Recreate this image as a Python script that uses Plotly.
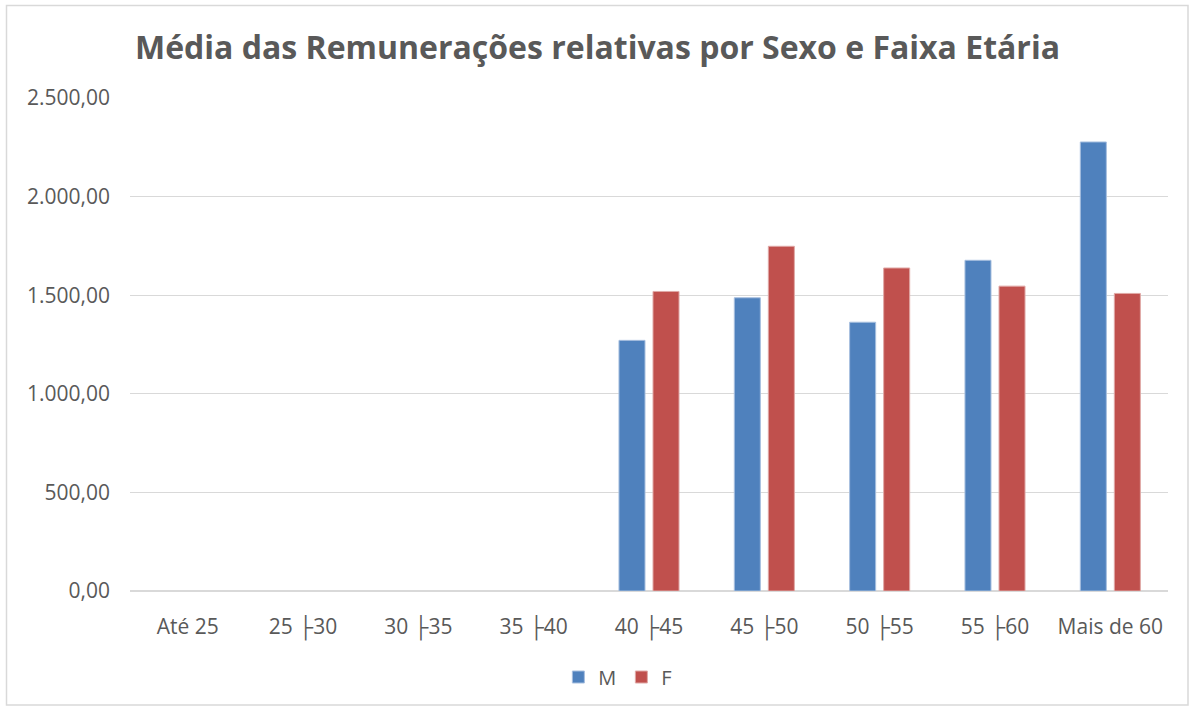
import plotly.graph_objects as go

categories = ["Até 25", "25 ├30", "30 ├35", "35 ├40", "40 ├45", "45 ├50", "50 ├55", "55 ├60", "Mais de 60"]
values_m = [None, None, None, None, 1271, 1487, 1363, 1677, 2277]
values_f = [None, None, None, None, 1519, 1748, 1638, 1546, 1509]
y_ticks = [0, 500, 1000, 1500, 2000, 2500]
y_tick_labels = ["0,00", "500,00", "1.000,00", "1.500,00", "2.000,00", "2.500,00"]

FONT = "'Open Sans', sans-serif"
GRAY = "#595959"

fig = go.Figure()
fig.add_trace(go.Bar(name="M", x=categories, y=values_m, marker=dict(color="#4F81BD", line=dict(color="#a7bfdf", width=1))))
fig.add_trace(go.Bar(name="F", x=categories, y=values_f, marker=dict(color="#C0504D", line=dict(color="#e0a8a6", width=1))))

L, R, T, B = 130, 27, 98, 120
W, H = 1195, 711
pw, ph = W - L - R, H - T - B

fig.update_layout(
    width=W, height=H,
    margin=dict(l=L, r=R, t=T, b=B),
    paper_bgcolor="white", plot_bgcolor="white",
    barmode="group", bargap=0.41, bargroupgap=0.235,
    title=dict(text="<b>Média das Remunerações relativas por Sexo e Faixa Etária</b>",
               x=135 / W, xanchor="left", y=1 - 48 / H, yanchor="middle",
               font=dict(family=FONT, size=32, color=GRAY)),
    font=dict(family=FONT, color=GRAY, size=21),
    showlegend=True,
    legend=dict(orientation="h", x=0.47, xanchor="center", y=-(677 - (H - B)) / ph, yanchor="middle",
                font=dict(family=FONT, size=20, color=GRAY), traceorder="normal", itemwidth=30),
    xaxis=dict(showgrid=False, showline=False, ticks="", ticklabelstandoff=21,
               tickfont=dict(size=21, color=GRAY)),
    yaxis=dict(range=[0, 2500], tickvals=y_ticks, ticktext=y_tick_labels, showgrid=True,
               gridcolor="#d9d9d9", gridwidth=1, zeroline=True, zerolinecolor="#d9d9d9",
               showline=False, ticks="", ticklabelstandoff=19, tickfont=dict(size=21, color=GRAY)),
    shapes=[dict(type="rect", xref="paper", yref="paper",
                 x0=(6.5 - L) / pw, x1=(1188 - L) / pw,
                 y0=-(705 - (H - B)) / ph, y1=((H - B) - 5.5) / ph,
                 line=dict(color="#d9d9d9", width=1.5), fillcolor="rgba(0,0,0,0)", layer="below")],
)

fig.write_html("out.html", config={"displayModeBar": False},
               post_script="document.body.style.margin='0';document.body.style.overflow='hidden';")
